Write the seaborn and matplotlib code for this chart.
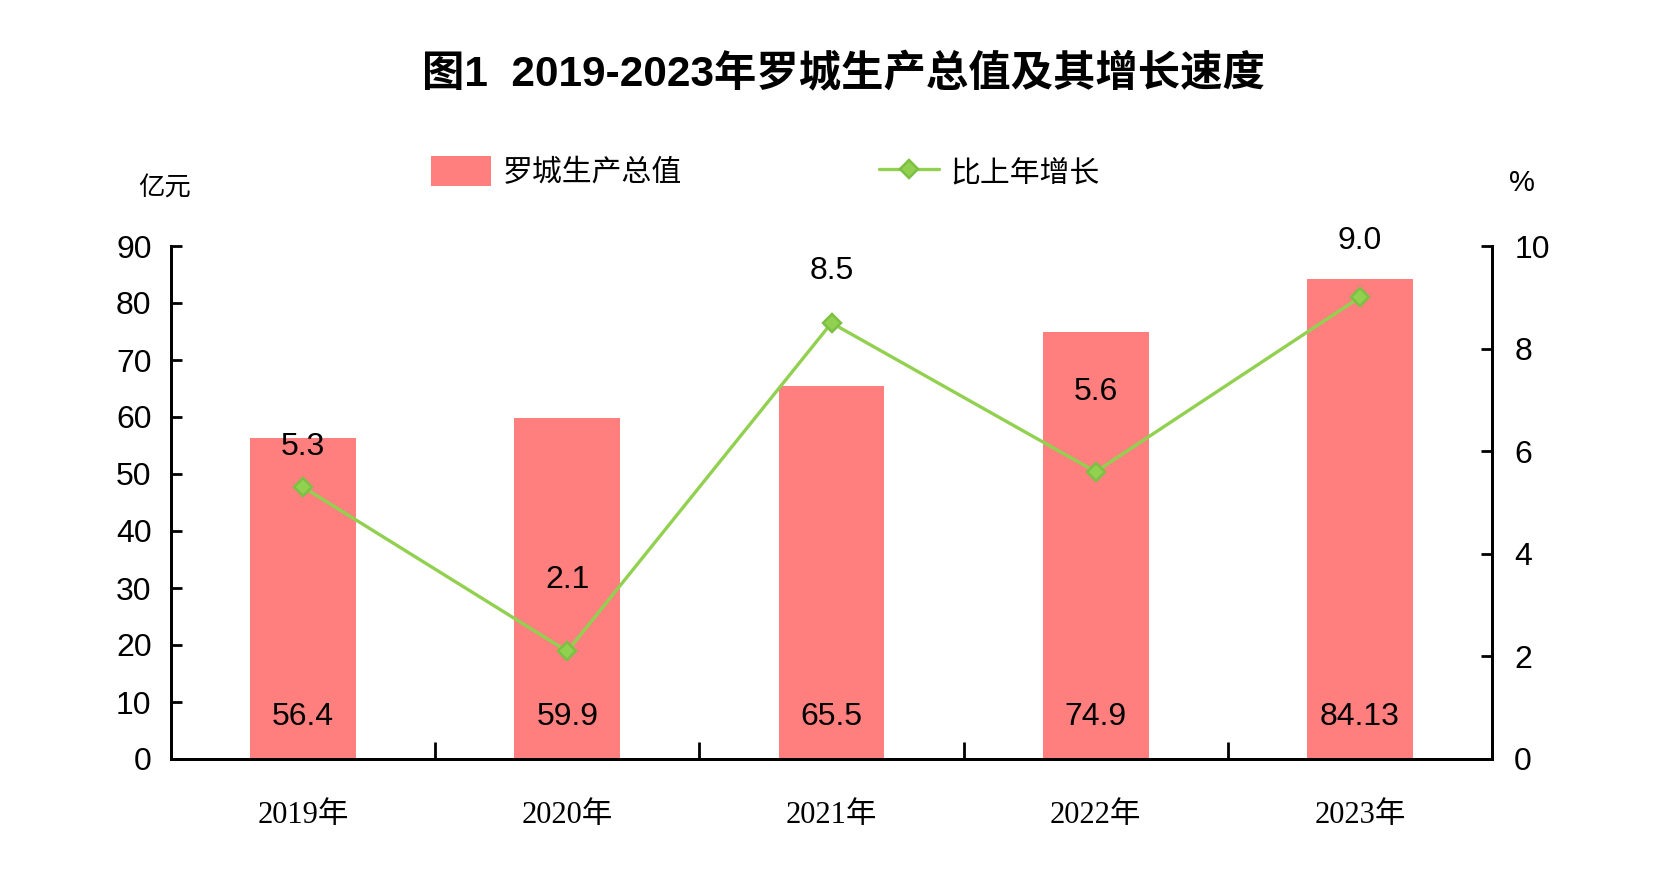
import matplotlib
matplotlib.use("Agg")
import matplotlib.pyplot as plt
import seaborn as sns
import pandas as pd
from matplotlib import font_manager

years = ["2019年", "2020年", "2021年", "2022年", "2023年"]
gdp = [56.4, 59.9, 65.5, 74.9, 84.13]
gdp_labels = ["56.4", "59.9", "65.5", "74.9", "84.13"]
growth = [5.3, 2.1, 8.5, 5.6, 9.0]
growth_labels = ["5.3", "2.1", "8.5", "5.6", "9.0"]
left_ticks = [0, 10, 20, 30, 40, 50, 60, 70, 80, 90]
right_ticks = [0, 2, 4, 6, 8, 10]

# label offsets above growth markers (pixels)
growth_offsets = [40, 71, 52, 80, 56]

sns.set_theme(style="white")
installed = {f.name for f in font_manager.fontManager.ttflist}
narrow = "Liberation Sans Narrow" if "Liberation Sans Narrow" in installed else "Liberation Sans"
plt.rcParams['font.family'] = [narrow, 'Noto Sans CJK SC', 'DejaVu Sans']
for k in ('text.color', 'axes.labelcolor', 'xtick.color', 'ytick.color'):
    plt.rcParams[k] = 'black'

BAR = "#FF7F7F"
LINE = "#92D050"

fig = plt.figure(figsize=(16.6, 8.82), dpi=100)
ax = fig.add_axes([171/1660, 1-759/882, (1492-171)/1660, (759-246)/882])

df = pd.DataFrame({"year": years, "gdp": gdp, "growth": growth})
sns.barplot(data=df, x="year", y="gdp", ax=ax, color=BAR, width=0.4,
            saturation=1, edgecolor="none", label="罗城生产总值")
ax.set_ylim(0, 90)
ax.set_yticks(left_ticks)
ax.set_xlim(-0.5, 4.5)

ax2 = ax.twinx()
sns.pointplot(data=df, x="year", y="growth", ax=ax2, color=LINE, markers="D",
              markersize=9, linewidth=2.4, label="比上年增长")
ax2.set_ylim(0, 10)
ax2.set_yticks(right_ticks)
ax2.set_xlim(-0.5, 4.5)
for ln in ax2.lines:
    ln.set_markerfacecolor(LINE)
    ln.set_markeredgecolor("#7CC043")

for a in (ax, ax2):
    a.set_xlabel("")
    a.set_ylabel("")
    a.spines['top'].set_visible(False)
    for s in ('left', 'right', 'bottom'):
        a.spines[s].set_color('black')
        a.spines[s].set_linewidth(2)
    a.grid(False)

ax.tick_params(axis='y', direction='in', length=8, width=2, color='black',
               labelsize=23, pad=14, left=True, labelcolor='black')
ax2.tick_params(axis='y', direction='in', length=8, width=2, color='black',
                labelsize=23, pad=16, right=True, labelcolor='black')
ax.set_xticks([0, 1, 2, 3, 4])
ax.set_xticklabels(years, family=['Liberation Serif', 'Noto Sans CJK SC'], fontsize=22)
ax.tick_params(axis='x', length=0, pad=30, labelcolor='black')
ax.set_xticks([0.5, 1.5, 2.5, 3.5, 4.5], minor=True)
ax.tick_params(axis='x', which='minor', direction='in', length=12, width=2,
               color='black', bottom=True)

for i, lab in enumerate(gdp_labels):
    ax.annotate(lab, (i, 0), xytext=(0, 30), textcoords='offset points',
                ha='center', va='center', fontsize=23, color='black')
for i, (v, lab) in enumerate(zip(growth, growth_labels)):
    ax2.annotate(lab, (i, v), xytext=(0, growth_offsets[i]*0.72),
                 textcoords='offset points', ha='center', va='center',
                 fontsize=23, color='black')

fig.text(843/1660, 1-75/882, "图1  2019-2023年罗城生产总值及其增长速度",
         ha='center', va='center', fontsize=30.5, fontweight='bold', color='black',
         family=[narrow, 'Noto Sans CJK SC'])
fig.text(165/1660, 1-188/882, "亿元", ha='center', va='center', fontsize=19,
         family=['Noto Sans CJK SC'], color='black')
fig.text(1522/1660, 1-183/882, "%", ha='center', va='center', fontsize=21, color='black')

h1, l1 = ax.get_legend_handles_labels()
h2, l2 = ax2.get_legend_handles_labels()
if ax.get_legend():
    ax.get_legend().remove()
if ax2.get_legend():
    ax2.get_legend().remove()
leg = fig.legend(h1[:1] + h2[:1], ["罗城生产总值", "比上年增长"], ncol=2,
                 loc='center left', bbox_to_anchor=(404/1660, 1-172/882),
                 frameon=False, columnspacing=6.6, handlelength=2.0,
                 handleheight=1.2, handletextpad=0.4,
                 prop={'family': ['Noto Sans CJK SC'], 'size': 21.5})
for t in leg.get_texts():
    t.set_color('black')

fig.savefig("out.png", dpi=100, facecolor='white')
